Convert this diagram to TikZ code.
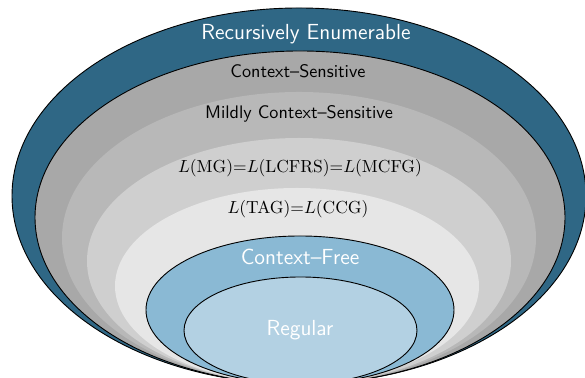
\documentclass[tikz,border=0pt]{standalone}
\usepackage{tikz}
\definecolor{reblue}{RGB}{47,103,133}
\definecolor{cfblue}{RGB}{138,185,212}
\definecolor{regblue}{RGB}{179,209,227}
\definecolor{csgray}{RGB}{168,168,168}
\definecolor{mcsgray}{RGB}{184,184,184}
\definecolor{mggray}{RGB}{207,207,207}
\definecolor{taggray}{RGB}{230,230,230}
\tikzset{
  bordered/.style={draw=black, line width=0.5pt},
  plain/.style={draw=none},
  lbl/.style={font=\sffamily, text=black, inner sep=0pt},
  wlbl/.style={font=\sffamily\large, text=white, inner sep=0pt},
  mlbl/.style={text=black, inner sep=0pt, scale=0.96}
}
\begin{document}
\begin{tikzpicture}[x=0.55pt, y=0.55pt]
\useasboundingbox (0,0) rectangle (585,378);
\clip (0,0) rectangle (585,378);
\fill[reblue, bordered] (299,182) ellipse [x radius=287, y radius=188];
\fill[csgray, bordered] (300,160.5) ellipse [x radius=265, y radius=166.5];
\fill[mcsgray, plain] (299,140) ellipse [x radius=237, y radius=146];
\fill[mggray, plain] (299,117) ellipse [x radius=212, y radius=123];
\fill[taggray, plain] (297,92) ellipse [x radius=182, y radius=98];
\fill[cfblue, bordered] (300,68) ellipse [x radius=154, y radius=74];
\fill[regblue, bordered] (300.5,47.5) ellipse [x radius=116.5, y radius=53.5];
\node[wlbl] (re) at (306,344) {Recursively Enumerable};
\node[lbl] (cs) at (298,307) {Context--Sensitive};
\node[lbl] (mcs) at (299,264) {Mildly Context--Sensitive};
\node[mlbl] (mg) at (300,210) {$L(\mathrm{MG}){=}L(\mathrm{LCFRS}){=}L(\mathrm{MCFG})$};
\node[mlbl] (tag) at (298,169) {$L(\mathrm{TAG}){=}L(\mathrm{CCG})$};
\node[wlbl] (cf) at (300,121) {Context--Free};
\node[wlbl] (reg) at (300,48) {Regular};
\end{tikzpicture}
\end{document}
